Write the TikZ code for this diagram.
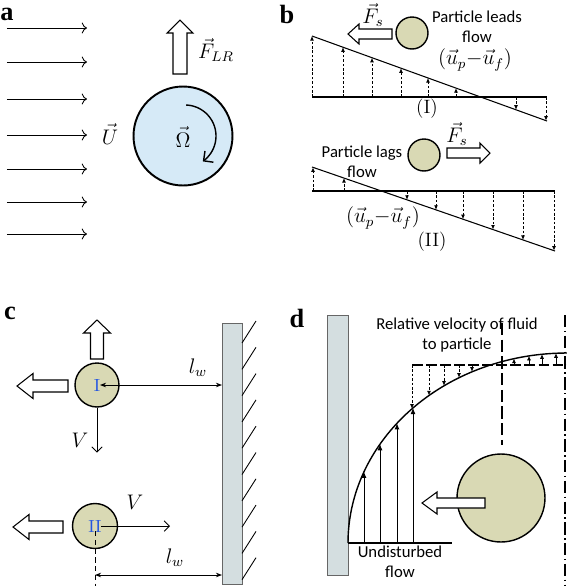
\documentclass[tikz,border=0pt]{standalone}
\usepackage{fontspec}
\setsansfont{Carlito}
\newfontfamily\panelfont{Liberation Serif}
\usetikzlibrary{arrows.meta, positioning, calc}
\definecolor{particle}{RGB}{217,217,180}
\definecolor{spin}{RGB}{214,234,247}
\definecolor{wallgray}{RGB}{212,222,224}
\definecolor{romanblue}{RGB}{35,85,225}
\tikzset{
  panel/.style={font=\panelfont\bfseries\fontsize{15}{15}\selectfont, inner sep=0pt},
  txt/.style={font=\sffamily\fontsize{9.5}{11.3}\selectfont, inner sep=0pt, align=center},
  mlab/.style={font=\fontsize{12}{14}\selectfont, inner sep=0pt},
  roman/.style={font=\fontsize{11}{13}\selectfont, inner sep=0pt},
  grain/.style={circle, draw, line width=0.8pt, fill=particle, inner sep=0pt, text=romanblue, font=\fontsize{10}{12}\selectfont},
  blockarrow/.style={draw, fill=white, line width=0.6pt, line join=miter},
  flowarrow/.style={-{To[length=3pt]}, line width=0.5pt},
  profarrow/.style={-{Latex[length=2.6pt,width=2.2pt]}, dash pattern=on 1.5pt off 1pt, line width=0.45pt},
  solidprof/.style={-{Latex[length=3.5pt,width=2.8pt]}, line width=0.5pt},
  wall/.style={draw=gray!80!black, fill=wallgray, line width=0.6pt, inner sep=0pt, anchor=north west},
  gap/.style={{Stealth[length=3.5pt]}-{Stealth[length=3.5pt]}, line width=0.5pt},
  vel/.style={-{Straight Barb[length=3pt]}, line width=0.5pt}
}
\begin{document}
\begin{tikzpicture}[x=0.02cm, y=-0.02cm]
    \useasboundingbox (0,0) rectangle (567,586);

    % (a) rotating sphere in uniform flow
    \node[panel] (la) at (7,14) {a};
    \foreach \y in {28,62,99,135,169,202,234}
        \draw[flowarrow] (7,\y) -- (87,\y);
    \node[circle, draw, line width=1.1pt, fill=spin, minimum size=1.98cm, inner sep=0pt] (ball) at (183,136) {};
    \draw[-{Straight Barb[length=4pt]}, line width=0.8pt] plot[domain=88:-55, samples=40] ({185+31*cos(\x)},{136-31*sin(\x)});
    \node[mlab] (omega) at (183,137) {$\vec{\Omega}$};
    \node[mlab] (uvec) at (110,134) {$\vec{U}$};
    \draw[blockarrow] (180,20) -- (193,33) -- (187,33) -- (187,74) -- (173,74) -- (173,33) -- (167,33) -- cycle;
    \node[mlab] (flr) at (216,50) {$\vec{F}_{LR}$};

    % (b) shear flow, particle leads / lags
    \node[panel] (lb) at (287,14) {b};
    \coordinate (b1s) at (312,36);
    \coordinate (b1e) at (547,121);
    \draw[line width=0.6pt] (312,97) -- (547,97);
    \draw[line width=0.6pt] (b1s) -- (b1e);
    \foreach \x in {312,343,372,401,428,456,516,546}
        \draw[profarrow] (\x,97) -- (\x,{36+(\x-312)/235*85});
    \node[grain, minimum size=0.64cm] (p1) at (412,33) {};
    \draw[blockarrow] (348,34) -- (359,24) -- (359,29) -- (392,29) -- (392,39) -- (359,39) -- (359,44) -- cycle;
    \node[mlab] (fs1) at (373,15) {$\vec{F}_s$};
    \node[txt] (lead) at (477,27) {Particle leads\\flow};
    \node[mlab] (rel1) at (475,60) {$(\vec{u}_p{-}\vec{u}_f)$};
    \node[roman] (caseI) at (427,109) {(I)};

    \coordinate (b2s) at (312,167);
    \coordinate (b2e) at (555,251);
    \draw[line width=0.6pt] (312,191) -- (555,191);
    \draw[line width=0.6pt] (b2s) -- (b2e);
    \foreach \x in {313,344,407,436,463,493,523,554}
        \draw[profarrow] (\x,191) -- (\x,{167+(\x-312)/243*84});
    \node[grain, minimum size=0.64cm] (p2) at (424,155) {};
    \draw[blockarrow] (490,153) -- (480,143) -- (480,148) -- (447,148) -- (447,158) -- (480,158) -- (480,163) -- cycle;
    \node[mlab] (fs2) at (457,134) {$\vec{F}_s$};
    \node[txt] (lag) at (362,162) {Particle lags\\flow};
    \node[mlab] (rel2) at (383,218) {$(\vec{u}_p{-}\vec{u}_f)$};
    \node[roman] (caseII) at (432,242) {(II)};

    % (c) particles near a wall
    \node[panel] (lc) at (10,313) {c};
    \node[wall, minimum width=0.4cm, minimum height=5.22cm] (wallc) at (222,323) {};
    \foreach \i in {0,...,9}
        \draw[line width=0.5pt] (242,{343+\i*26.3}) -- ++(14,-22);
    \node[grain, minimum size=0.88cm] (pI) at (97,385) {I};
    \draw[blockarrow] (97,320) -- (110.5,333) -- (103.5,333) -- (103.5,359) -- (90.5,359) -- (90.5,333) -- (83.5,333) -- cycle;
    \draw[blockarrow] (17,386) -- (33,373.5) -- (33,380) -- (68,380) -- (68,392) -- (33,392) -- (33,398.5) -- cycle;
    \draw[gap] ($(pI.center)+(3,0)$) -- (pI.center -| wallc.west);
    \node[mlab] (lw1) at (198,368) {$l_w$};
    \draw[vel] (pI.south) -- ++(0,45);
    \node[mlab] (v1) at (80,440) {$V$};

    \node[grain, minimum size=0.9cm] (pII) at (95,526) {II};
    \draw[blockarrow] (13,527) -- (29,514.5) -- (29,521) -- (63,521) -- (63,533) -- (29,533) -- (29,539.5) -- cycle;
    \draw[vel] ($(pII.center)+(6,0)$) -- (170,526);
    \node[mlab] (v2) at (135,502) {$V$};
    \coordinate (cbot) at (95,586);
    \draw[dash pattern=on 3pt off 2pt, line width=0.5pt] ($(pII.center)+(0,5)$) -- (cbot);
    \coordinate (lw2s) at (95,575);
    \draw[gap] (lw2s) -- (lw2s -| wallc.west);
    \node[mlab] (lw2) at (175,558) {$l_w$};

    % (d) velocity profile near the wall
    \node[panel] (ld) at (297,318) {d};
    \node[wall, minimum width=0.42cm, minimum height=5.2cm] (walld) at (327,315) {};
    \draw[line width=0.8pt] plot[domain=0:90, samples=60] ({567-219*cos(\x)},{543-190*sin(\x)});
    \draw[line width=0.6pt] (348,543) -- (452,543);
    \foreach \x in {364,380,397,413}
        \draw[solidprof] (\x,543) -- (\x,{543-190*sqrt(1-((567-\x)/219)^2)});
    \node[txt] (undist) at (400,562) {Undisturbed\\flow};
    \draw[dash pattern=on 6pt off 2pt, line width=0.6pt] (412,365) -- (567,365);
    \foreach \x in {412,429,444,459,472}
        \draw[profarrow] (\x,365) -- (\x,{543-190*sqrt(1-((567-\x)/219)^2)});
    \foreach \x in {514,529,542,556}
        \draw[-{Latex[length=2.6pt,width=2.4pt]}, line width=0.45pt] (\x,365) -- (\x,{543-190*sqrt(1-((567-\x)/219)^2)});
    \draw[dash pattern=on 7pt off 2.5pt, line width=0.7pt] (502,323) -- (502,445);
    \draw[dash pattern=on 7pt off 2pt on 0.8pt off 2pt, line width=0.7pt] (565,315) -- (565,586);
    \node[txt] (relv) at (457,335) {Relative velocity of fluid\\to particle};
    \node[grain, minimum size=1.76cm] (pd) at (501,498) {};
    \draw[blockarrow] (422,503) -- (437,492) -- (437,498) -- (485,498) -- (485,508) -- (437,508) -- (437,514) -- cycle;
\end{tikzpicture}
\end{document}
